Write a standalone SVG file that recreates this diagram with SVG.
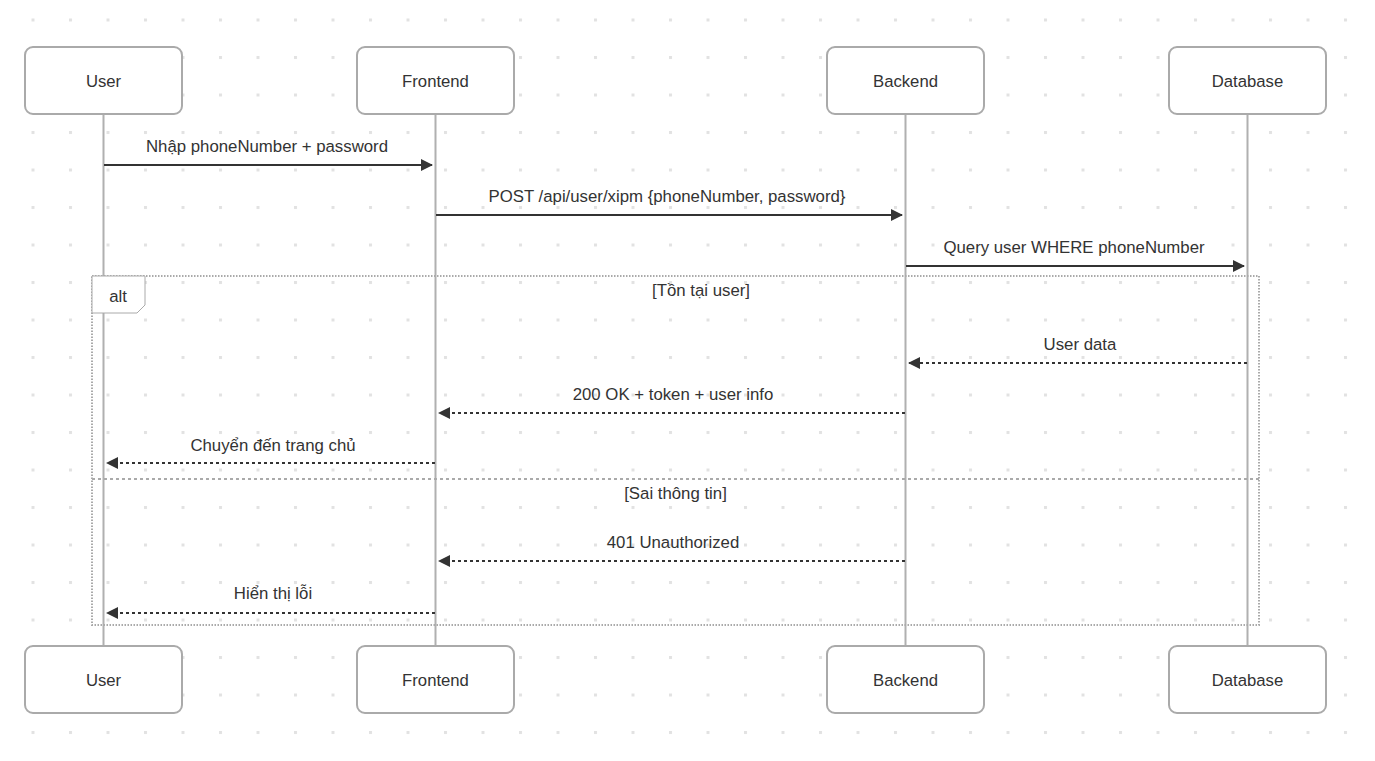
<svg xmlns="http://www.w3.org/2000/svg" width="1375" height="761" viewBox="0 0 1375 761">
  <style>
    text { font-family: "Liberation Sans", Arial, sans-serif; fill: #333; }
    .actor rect { fill: #fff; stroke: #aaa; stroke-width: 2; }
    .actor text { font-size: 16.7px; text-anchor: middle; dominant-baseline: central; }
    .life { stroke: #b0b0b0; stroke-width: 2; }
    .msg { stroke: #333; stroke-width: 2; fill: none; }
    .reply { stroke: #333; stroke-width: 2; fill: none; stroke-dasharray: 3 3; }
    .lbl { font-size: 16.8px; text-anchor: middle; }
    .frame { fill: none; stroke: #aaa; stroke-width: 2; stroke-dasharray: 1.5 1.5; }
    .sep { stroke: #aaa; stroke-width: 2; stroke-dasharray: 3 3; }
  </style>
  <defs>
    <pattern id="dots" x="31.5" y="18.5" width="37.5" height="37.5" patternUnits="userSpaceOnUse">
      <rect x="0" y="0" width="3" height="3" fill="#e2e2e2"/>
    </pattern>
    <marker id="head" viewBox="0 0 12 12" refX="11" refY="6" markerWidth="12" markerHeight="12" markerUnits="userSpaceOnUse" orient="auto">
      <path d="M0,0 L12,6 L0,12 z" fill="#333"/>
    </marker>
  </defs>

  <rect width="1375" height="761" fill="#fff"/>
  <rect width="1375" height="761" fill="url(#dots)"/>

  <!-- lifelines -->
  <g id="lifelines">
    <line class="life" x1="103.5" y1="114" x2="103.5" y2="646"/>
    <line class="life" x1="435.5" y1="114" x2="435.5" y2="646"/>
    <line class="life" x1="905.5" y1="114" x2="905.5" y2="646"/>
    <line class="life" x1="1247.5" y1="114" x2="1247.5" y2="646"/>
  </g>

  <!-- alt fragment -->
  <g id="alt">
    <rect class="frame" x="92" y="276" width="1167" height="349"/>
    <path d="M92,276 H145 V305 L137,313 H92 Z" fill="#fff" stroke="#aaa" stroke-width="1"/>
    <text x="118" y="302" font-size="16.8" text-anchor="middle">alt</text>
    <text x="701" y="296" class="lbl">[Tồn tại user]</text>
    <line class="sep" x1="92" y1="479" x2="1259" y2="479"/>
    <text x="675.5" y="499" class="lbl">[Sai thông tin]</text>
  </g>

  <!-- participants -->
  <g id="user-top" class="actor"><rect x="25" y="47" width="157" height="67" rx="8"/><text x="103.5" y="81.5">User</text></g>
  <g id="frontend-top" class="actor"><rect x="357" y="47" width="157" height="67" rx="8"/><text x="435.5" y="81.5">Frontend</text></g>
  <g id="backend-top" class="actor"><rect x="827" y="47" width="157" height="67" rx="8"/><text x="905.5" y="81.5">Backend</text></g>
  <g id="database-top" class="actor"><rect x="1169" y="47" width="157" height="67" rx="8"/><text x="1247.5" y="81.5">Database</text></g>

  <g id="user-bottom" class="actor"><rect x="25" y="646" width="157" height="67" rx="8"/><text x="103.5" y="680.5">User</text></g>
  <g id="frontend-bottom" class="actor"><rect x="357" y="646" width="157" height="67" rx="8"/><text x="435.5" y="680.5">Frontend</text></g>
  <g id="backend-bottom" class="actor"><rect x="827" y="646" width="157" height="67" rx="8"/><text x="905.5" y="680.5">Backend</text></g>
  <g id="database-bottom" class="actor"><rect x="1169" y="646" width="157" height="67" rx="8"/><text x="1247.5" y="680.5">Database</text></g>

  <!-- messages -->
  <g id="connectors">
    <line class="msg" x1="104" y1="165" x2="432" y2="165" marker-end="url(#head)"/>
    <text class="lbl" x="267" y="152">Nhập phoneNumber + password</text>

    <line class="msg" x1="436" y1="215" x2="902" y2="215" marker-end="url(#head)"/>
    <text class="lbl" x="667" y="202">POST /api/user/xipm {phoneNumber, password}</text>

    <line class="msg" x1="906" y1="266" x2="1244" y2="266" marker-end="url(#head)"/>
    <text class="lbl" x="1074" y="253">Query user WHERE phoneNumber</text>

    <line class="reply" x1="1247" y1="363" x2="909" y2="363" marker-end="url(#head)"/>
    <text class="lbl" x="1080" y="350">User data</text>

    <line class="reply" x1="905" y1="413" x2="439" y2="413" marker-end="url(#head)"/>
    <text class="lbl" x="673" y="400">200 OK + token + user info</text>

    <line class="reply" x1="435" y1="463" x2="107" y2="463" marker-end="url(#head)"/>
    <text class="lbl" x="273" y="451">Chuyển đến trang chủ</text>

    <line class="reply" x1="905" y1="561" x2="439" y2="561" marker-end="url(#head)"/>
    <text class="lbl" x="673" y="548">401 Unauthorized</text>

    <line class="reply" x1="435" y1="613" x2="107" y2="613" marker-end="url(#head)"/>
    <text class="lbl" x="273" y="599">Hiển thị lỗi</text>
  </g>
</svg>
